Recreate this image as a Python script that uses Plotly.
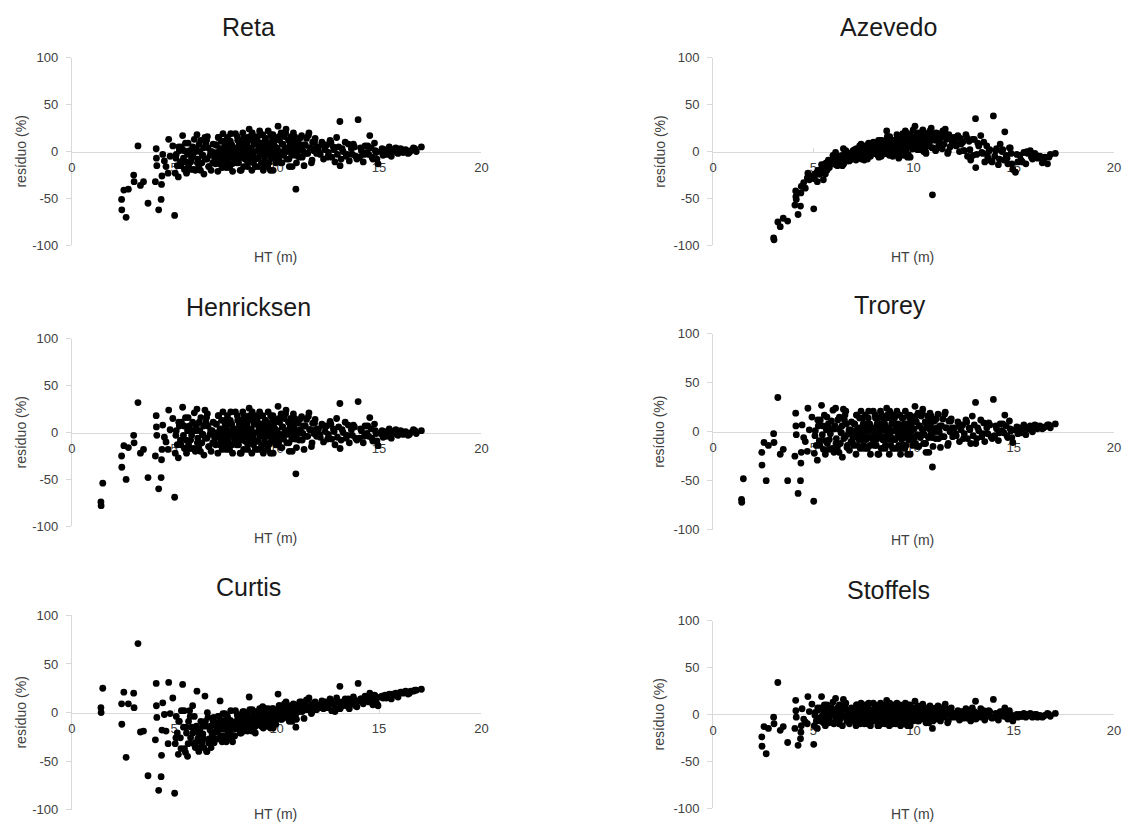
import plotly.graph_objects as go

# Tree height (m), shared by all six models
ht = [
    1.42, 1.43, 1.51, 2.43, 2.44, 2.54, 2.65, 2.76, 3.02, 3.04,
    3.23, 3.35, 3.5, 3.72, 4.12, 4.13, 4.15, 4.08, 4.24, 4.36,
    4.38, 4.4, 4.44, 4.6, 4.73, 4.7, 4.93, 5.02, 4.8, 4.52,
    5.05, 5.1, 5.15, 5.2, 5.25, 5.3, 5.35, 5.41, 5.45, 5.5, 5.55, 5.6, 5.65, 5.7, 5.75, 5.8, 5.85, 5.9, 5.95, 5.98,
    6.03, 6.08, 6.11, 6.15, 6.2, 6.25, 6.3, 6.35, 6.4, 6.45, 6.5, 6.55, 6.6, 6.65, 6.7, 6.75, 6.8, 6.85, 6.9, 6.95, 6.98, 6.62,
    7.02, 7.06, 7.1, 7.13, 7.17, 7.2, 7.24, 7.27, 7.31, 7.34, 7.38, 7.42, 7.45, 7.49, 7.52, 7.56, 7.6, 7.63, 7.67, 7.7, 7.74, 7.78, 7.81, 7.85, 7.88, 7.92, 7.95, 7.99,
    8.02, 8.05, 8.08, 8.12, 8.15, 8.18, 8.22, 8.25, 8.29, 8.32, 8.35, 8.39, 8.42, 8.46, 8.49, 8.52, 8.56, 8.59, 8.62, 8.66, 8.69, 8.72, 8.76, 8.79, 8.82, 8.86, 8.89, 8.93, 8.96, 8.99,
    9.02, 9.05, 9.08, 9.11, 9.14, 9.17, 9.2, 9.23, 9.26, 9.29, 9.32, 9.35, 9.38, 9.41, 9.44, 9.47, 9.5, 9.53, 9.56, 9.59, 9.62, 9.65, 9.68, 9.71, 9.74, 9.77, 9.8, 9.83, 9.86, 9.89, 9.92, 9.96,
    10.03, 10.07, 10.1, 10.14, 10.18, 10.22, 10.26, 10.3, 10.34, 10.38, 10.42, 10.46, 10.5, 10.54, 10.58, 10.62, 10.66, 10.7, 10.74, 10.78, 10.82, 10.86, 10.9, 10.94, 10.97,
    11.04, 11.1, 11.16, 11.22, 11.28, 11.34, 11.4, 11.46, 11.52, 11.58, 11.64, 11.7, 11.76, 11.82, 11.88, 11.95,
    12.05, 12.13, 12.21, 12.29, 12.37, 12.45, 12.53, 12.61, 12.69, 12.77, 12.85, 12.93,
    13.03, 13.09, 13.1, 13.15, 13.25, 13.35, 13.45, 13.55, 13.65, 13.75, 13.86, 13.98,
    14.05, 14.14, 14.23, 14.32, 14.41, 14.5, 14.55, 14.62, 14.7, 14.78, 14.86, 14.95,
    15.08, 15.2, 15.3, 15.42, 15.5, 15.6, 15.7, 15.82, 15.93,
    16.05, 16.18, 16.3, 16.42, 16.55, 16.68, 16.82, 17.07,
    5.08, 5.22, 5.33, 5.48, 5.58, 5.68, 5.78, 5.92,
    6.05, 6.13, 6.22, 6.28, 6.38, 6.43, 6.52, 6.58, 6.68, 6.78, 6.88, 6.93,
    7.04, 7.11, 7.15, 7.22, 7.29, 7.36, 7.4, 7.47, 7.54, 7.58, 7.65, 7.72, 7.76, 7.83, 7.9, 7.97,
    8.04, 8.1, 8.14, 8.2, 8.27, 8.31, 8.37, 8.41, 8.47, 8.54, 8.58, 8.64, 8.71, 8.74, 8.81, 8.87, 8.91, 8.97,
    9.04, 9.09, 9.16, 9.22, 9.28, 9.34, 9.4, 9.46, 9.52, 9.58, 9.64, 9.7, 9.76, 9.82, 9.85, 9.9, 9.94, 9.98,
    10.05, 10.12, 10.2, 10.28, 10.36, 10.44, 10.52, 10.6, 10.68, 10.76, 10.84, 10.88, 10.92, 10.99,
    11.07, 11.13, 11.25, 11.31, 11.43, 11.55, 11.61, 11.73, 11.85, 11.92,
    12.1, 12.33, 12.49, 12.65, 12.81, 12.97,
    13.2, 13.4, 13.5, 13.7, 13.8, 13.92,
    14.1, 14.28, 14.45, 14.66, 14.82, 14.9,
    15.15, 15.36, 15.65, 15.88,
    16.12, 16.48, 16.75,
]

res_reta = [
    -125, -130, -105, -51, -62, -41, -70, -40, -25, -32,
    6, -36, -32, -55, 3, -7, -15, -32, -62, -51,
    -35, -26, -3, -16, 13, -23, 6, -68, -5, -10,
    -23, -3, -15, -27, 1, -11, 5, 17, -7, -19, 9, -23, -3, -15, 1, -11, -7, 5, -19, 13,
    -20, 4, 18, -8, -16, 0, 12, -12, -4, -24, 15, 8, -8, 4, -16, -4, -20, 0, 8, -12, -8, 16,
    -13, 7, -1, -21, 15, -5, 3, -9, 11, -17, 19, -1, -5, 7, -13, 3, 15, -9, -1, -17, 11, -5, 7, -21, 3, -1, -9, 19,
    4, -12, 16, 0, -8, 8, -20, 12, -4, 0, 20, -16, 4, -8, 12, -4, 8, -12, 0, 24, 16, -8, 4, -20, 12, -4, 0, 8, -16, 16,
    -7, 14, 1, -16, 5, 22, -3, 9, -12, 1, 18, -20, 5, -7, 14, -3, 1, 9, -16, 22, -12, 5, -3, 18, -7, 1, 14, -20, 9, -3, 5, -12,
    4, 27, -8, 12, 0, 20, -12, 8, -4, 16, 4, 24, -8, 0, 12, -16, 8, 16, -4, 4, 20, 0, 12, -40, -12,
    10, -6, 4, 17, 1, -15, 7, 14, -2, 20, 4, -12, 10, 1, 14, -2,
    5, -3, 10, -8, 2, 7, -1, 12, -6, 5, -11, 15,
    5, 32, -15, -8, 0, 10, -3, -10, 3, 8, -5, 34,
    -6, 1, -11, 6, -1, -3, 17, 4, -8, 9, -1, -13,
    0, -4, 2, -1, 5, -5, 1, 4, -2,
    3, -1, 2, -2, 1, 4, 0, 5,
    -7, 5, -15, 1, -11, 9, -19, -3,
    0, -12, 8, -20, -4, 4, -8, 12, -16, 0, -12, -4,
    7, -5, 15, -13, -1, 3, -9, 11, -17, -1, 7, -5, 19, -13, 3, -9,
    -4, 12, -12, 4, -20, 8, 0, 16, -8, 4, -16, 12, -4, 0, 20, -12, 8, -8,
    9, -7, 1, 18, -16, 5, -3, 14, -12, 1, 9, -20, 5, 18, -7, 1, -3, 14,
    -4, 16, -12, 8, 0, 20, 4, -8, 12, -16, 8, 16, -4, 4,
    1, 14, -6, 7, -2, 17, 4, -9, 10, 4,
    -1, 7, -6, 10, 2, -3,
    3, -5, 8, -3, 5, -8,
    4, -3, 6, -6, 1, -8,
    3, -3, 2, -1,
    2, -1, 3,
]

res_azevedo = [
    -140, -145, -130, -115, -125, -110, -128, -105, -92, -94,
    -75, -80, -71, -74, -42, -48, -51, -57, -67, -58,
    -44, -37, -37, -39, -23, -28, -26, -61, -30, -33,
    -29, -25, -23, -32, -20, -24, -22, -14, -19, -30, -16, -24, -12, -17, -9, -17, -11, -9, -11, -4,
    -13, -8, -1, -11, -15, -8, -5, -12, -9, -15, 3, -4, -9, 0, -10, -4, -10, -2, -5, -6, 1, 1,
    -6, 2, -1, -9, 1, -3, 1, -6, 6, -6, 8, 0, -3, 5, -5, -1, 6, -6, 2, -8, 8, 1, 5, -5, 3, 0, -2, 10,
    7, -2, 9, 5, 0, 3, -4, 12, -1, 6, 12, -5, 4, 2, 8, 4, 11, -2, 2, 22, 16, 0, 9, -4, 8, 5, 3, 12, -5, 10,
    3, 12, 9, -2, 6, 18, 1, 15, -7, 10, 15, -4, 13, 4, 13, 7, 2, 16, -1, 22, 2, 11, 8, 19, -3, 11, 14, -6, 17, 6, 9, 3,
    12, 27, 4, 17, 10, 20, 2, 15, 7, 15, 13, 23, 0, 11, 19, -2, 14, 16, 6, 9, 22, 12, 19, -46, 4,
    15, 1, 17, 19, 11, 4, 16, 22, 8, 24, 13, -2, 18, 5, 15, 10,
    15, 6, 17, 0, 8, 10, 1, 18, -5, 11, -9, 13,
    13, 35, -17, -3, 6, 17, -2, -11, 6, 0, -10, 38,
    -5, 3, -14, 8, 0, -9, 21, -4, -13, 4, -2, -19,
    -22, -11, -4, -11, -1, -13, -2, 1, -8,
    -2, -7, -5, -12, -6, -13, -3, -2,
    -24, -20, -24, -20, -13, -20, -14, -10,
    -12, -14, -7, -11, -7, -4, -13, -4, -7, -7, -2, -8,
    -2, -7, 3, -5, -2, 2, -8, 1, -9, 4, 0, -2, 9, -3, 7, 2,
    2, 7, -2, 5, -6, 10, 6, 12, 2, 4, -2, 9, 0, 7, 16, -3, 12, 4,
    9, 3, 12, 15, -2, 7, 2, 19, -4, 11, 14, -6, 8, 17, 6, 12, 3, 23,
    7, 15, 2, 12, 10, 21, 5, 0, 19, 9, 17, 25, 4, 15,
    12, 20, 6, 14, 3, 21, 16, 0, 13, 8,
    9, 14, 1, 15, 2, -4,
    9, -1, 10, -6, 2, -11,
    1, -8, 2, -7, 4, -13,
    -3, -9, 0, -6,
    -4, -9, -6,
]

res_henricksen = [
    -74, -78, -54, -25, -37, -14, -50, -16, -3, -11,
    32, -22, -18, -48, 18, 6, -3, -25, -60, -48,
    -29, -18, 8, -10, 24, -18, 15, -69, 3, -5,
    -22, 2, -13, -27, 7, -8, 11, 27, -3, -17, 16, -22, 2, -13, 7, -8, -3, 11, -17, 21,
    -20, 7, 25, -6, -15, 2, 16, -11, -2, -24, 24, 11, -6, 7, -15, -2, -20, 2, 11, -11, -6, 20,
    -13, 9, 0, -22, 18, -4, 4, -9, 13, -18, 22, 0, -4, 9, -13, 4, 18, -9, 0, -18, 13, -4, 9, -22, 4, 0, -9, 22,
    4, -13, 18, 0, -9, 9, -22, 13, -4, 0, 22, -18, 4, -9, 13, -4, 9, -13, 0, 26, 18, -9, 4, -22, 13, -4, 0, 9, -18, 18,
    -9, 13, 0, -18, 4, 22, -4, 9, -13, 0, 18, -22, 4, -9, 13, -4, 0, 9, -18, 22, -13, 4, -4, 18, -9, 0, 13, -22, 9, -4, 4, -13,
    2, 28, -11, 11, -2, 20, -16, 6, -7, 15, 2, 24, -11, -2, 11, -20, 6, 15, -7, 2, 20, -2, 11, -44, -16,
    10, -8, 3, 17, -1, -18, 7, 14, -4, 21, 3, -15, 10, -1, 14, -4,
    4, -5, 9, -10, 1, 7, -2, 12, -7, 4, -13, 15,
    6, 31, -17, -8, 0, 11, -3, -11, 3, 8, -6, 33,
    -6, 2, -11, 7, -1, -4, 16, 4, -9, 9, -1, -14,
    -1, -5, 1, -2, 4, -6, 0, 3, -3,
    2, -2, 1, -3, 0, 3, -1, 2,
    -3, 11, -13, 7, -8, 16, -17, 2,
    2, -11, 11, -20, -2, 7, -6, 16, -15, 2, -11, -2,
    9, -4, 18, -13, 0, 4, -9, 13, -18, 0, 9, -4, 22, -13, 4, -9,
    -4, 13, -13, 4, -22, 9, 0, 18, -9, 4, -18, 13, -4, 0, 22, -13, 9, -9,
    9, -9, 0, 18, -18, 4, -4, 13, -13, 0, 9, -22, 4, 18, -9, 0, -4, 13,
    -7, 15, -16, 6, -2, 20, 2, -11, 11, -20, 6, 15, -7, 2,
    -1, 14, -8, 7, -4, 17, 3, -11, 10, 3,
    -2, 7, -7, 9, 1, -5,
    3, -6, 8, -3, 6, -8,
    4, -4, 7, -6, 2, -9,
    2, -4, 1, -2,
    1, -2, 2,
]

res_trorey = [
    -69, -72, -48, -21, -34, -11, -50, -14, -2, -11,
    35, -23, -18, -50, 19, 6, -3, -25, -63, -50,
    -32, -21, 7, -10, 24, -20, 15, -71, 2, -6,
    -22, 1, -14, -29, 6, -9, 12, 27, -3, -18, 17, -23, 2, -12, 8, -8, -2, 11, -17, 22,
    -21, 6, 24, -7, -16, 3, 15, -12, -1, -26, 23, 12, -5, 8, -14, -2, -19, 2, 10, -11, -6, 21,
    -14, 8, 1, -23, 17, -5, 4, -8, 14, -17, 21, 1, -5, 8, -14, 4, 17, -8, 1, -17, 14, -5, 8, -23, 4, 1, -8, 21,
    4, -14, 17, 1, -8, 8, -23, 14, -5, 1, 21, -17, 4, -8, 14, -5, 8, -14, 1, 24, 17, -8, 4, -23, 14, -5, 1, 8, -17, 17,
    -8, 14, 1, -17, 4, 21, -5, 8, -14, 1, 17, -23, 4, -8, 14, -5, 1, 8, -17, 21, -14, 4, -5, 17, -8, 1, 14, -23, 8, -5, 4, -14,
    3, 26, -12, 10, -3, 19, -15, 6, -6, 16, 3, 23, -12, -3, 10, -21, 6, 16, -6, 3, 19, -3, 10, -36, -15,
    11, -7, 4, 18, 0, -16, 6, 13, -5, 20, 4, -14, 11, 0, 13, -5,
    4, -4, 10, -10, 2, 7, -2, 12, -7, 4, -12, 16,
    7, 30, -12, -7, 1, 12, -2, -10, 4, 9, -5, 33,
    -4, 3, -9, 8, 1, -1, 17, 6, -6, 11, 1, -11,
    2, -2, 4, 1, 7, -3, 3, 6, 0,
    7, 3, 6, 3, 5, 7, 4, 8,
    -4, 12, -14, 6, -9, 15, -18, 3,
    3, -12, 12, -21, -1, 6, -7, 17, -16, 2, -10, -3,
    8, -5, 17, -14, 1, 4, -8, 14, -17, 1, 8, -5, 21, -14, 4, -8,
    -5, 14, -14, 4, -23, 8, 1, 17, -8, 4, -17, 14, -5, 1, 21, -14, 8, -8,
    8, -8, 1, 17, -17, 4, -5, 14, -14, 1, 8, -23, 4, 17, -8, 1, -5, 14,
    -6, 16, -15, 6, -3, 19, 3, -12, 10, -21, 6, 16, -6, 3,
    0, 13, -7, 6, -5, 18, 4, -12, 11, 4,
    -2, 7, -7, 10, 2, -4,
    4, -5, 9, -2, 7, -7,
    6, -1, 8, -4, 3, -6,
    5, -1, 4, 2,
    6, 4, 7,
]

res_curtis = [
    5, 0, 25, 9, -12, 21, -46, 9, 20, 5,
    71, -20, -19, -65, 30, 7, -5, -28, -80, -66,
    -44, -18, 10, -19, 31, -32, 15, -83, -1, -2,
    -32, -4, -21, -43, -9, -26, 2, 29, -15, -37, -41, -21, -45, -9, 2, -26, -15, 7, -32, -4,
    -36, -14, 22, -27, -40, -18, -9, -31, -22, -36, 17, -14, -40, -5, -27, -18, -36, -22, -9, -31, -27, 0,
    -20, -11, -14, -27, -4, -17, 12, -24, -8, -30, -1, -17, -14, -8, -24, -11, -4, -20, -17, -27, -8, -14, -11, -30, -17, -14, -24, 2,
    -9, -14, -2, -11, -16, -7, -21, -4, -9, -11, 1, -19, -4, -14, -7, -9, -2, -16, -11, 16, 3, -14, -7, -19, -4, -11, -9, -2, -21, 1,
    -7, -1, -5, -12, -3, 4, -10, 2, -14, -5, 6, -16, -3, -10, -1, -7, -5, 2, -14, 4, -12, -1, -7, 2, -10, -3, 4, -16, -1, -5, -3, -12,
    1, 19, -3, 7, -1, 5, -7, 3, -5, 9, 1, 11, -5, -1, 5, -9, 3, 7, -3, 3, 9, -1, 5, -15, -7,
    8, 1, 6, 11, 4, -6, 10, 13, 3, 15, 6, -1, 8, 4, 11, 3,
    8, 5, 12, 4, 9, 11, 7, 14, 2, 9, 1, 15,
    11, 27, 4, 6, 10, 14, 9, 4, 13, 16, 7, 30,
    12, 14, 9, 17, 13, 11, 20, 15, 8, 18, 14, 7,
    16, 15, 18, 17, 19, 14, 18, 20, 16,
    21, 20, 22, 19, 22, 22, 23, 24,
    -26, -9, -37, 2, -15, -32, -4, -21,
    -31, -18, -22, -36, -14, -27, -9, -40, -31, -14, -22, -5,
    -14, -20, -4, -27, -17, -11, -24, -1, -30, -14, -8, -20, 2, -24, -11, -17,
    -11, -4, -16, -9, -21, -2, -7, 1, -14, -9, -19, -4, -11, -7, 3, -16, -2, -14,
    -3, -10, -5, 2, -14, -1, -7, 4, -12, -5, -1, -16, -3, 4, -10, -5, -7, 2,
    -3, 7, -7, 3, -1, 9, 1, -5, 5, -9, 5, 7, -3, 1,
    4, 11, 1, 8, 3, 13, 6, 1, 10, 6,
    7, 11, 5, 12, 8, 4,
    11, 7, 14, 9, 13, 6,
    14, 12, 15, 11, 17, 9,
    17, 15, 19, 17,
    21, 20, 23,
]

res_stoffels = [
    -112, -118, -104, -24, -34, -13, -42, -15, -3, -10,
    34, -17, -13, -30, 15, 4, -3, -15, -33, -26,
    -19, -12, 6, -8, 19, -10, 11, -32, 3, -5,
    -12, 2, -7, -15, 5, -4, 7, 19, -1, -9, 10, -12, 2, -7, 5, -4, -1, 7, -9, 13,
    -10, 5, 17, -2, -7, 2, 10, -5, 0, -12, 16, 7, -2, 5, -7, 0, -10, 2, 7, -5, -2, 12,
    -7, 5, 0, -12, 10, -2, 2, -5, 7, -10, 12, 0, -2, 5, -7, 2, 10, -5, 0, -10, 7, -2, 5, -12, 2, 0, -5, 12,
    2, -7, 10, 0, -5, 5, -12, 7, -2, 0, 12, -10, 2, -5, 7, -2, 5, -7, 0, 15, 10, -5, 2, -12, 7, -2, 0, 5, -10, 10,
    -5, 7, 0, -10, 2, 12, -2, 5, -7, 0, 10, -12, 2, -5, 7, -2, 0, 5, -10, 12, -7, 2, -2, 10, -5, 0, 7, -12, 5, -2, 2, -7,
    1, 14, -5, 5, -1, 9, -7, 3, -3, 7, 1, 11, -5, -1, 5, -9, 3, 7, -3, 1, 9, -1, 5, -15, -7,
    5, -5, 1, 9, -1, -7, 3, 7, -3, 11, 1, -9, 5, -1, 7, -3,
    1, -3, 4, -6, 0, 3, -1, 6, -4, 1, -7, 7,
    3, 14, -5, -4, 0, 6, -1, -6, 1, 4, -3, 16,
    -3, 0, -6, 3, -1, -2, 7, 1, -5, 4, -1, -7,
    -1, -3, 0, -2, 1, -3, -1, 1, -3,
    0, -3, -1, -3, -1, 1, -2, 1,
    -1, 7, -7, 5, -4, 10, -9, 2,
    2, -5, 7, -10, 0, 5, -2, 10, -7, 2, -5, 0,
    5, -2, 10, -7, 0, 2, -5, 7, -10, 0, 5, -2, 12, -7, 2, -5,
    -2, 7, -7, 2, -12, 5, 0, 10, -5, 2, -10, 7, -2, 0, 12, -7, 5, -5,
    5, -5, 0, 10, -10, 2, -2, 7, -7, 0, 5, -12, 2, 10, -5, 0, -2, 7,
    -3, 7, -7, 3, -1, 9, 1, -5, 5, -9, 3, 7, -3, 1,
    -1, 7, -5, 3, -3, 9, 1, -7, 5, 1,
    -1, 3, -4, 4, 0, -3,
    1, -3, 4, -1, 3, -4,
    1, -2, 3, -3, 0, -5,
    0, -2, 0, -2,
    0, -2, 0,
]

model_names = ["Reta", "Azevedo", "Henricksen", "Trorey", "Curtis", "Stoffels"]
residuals = [res_reta, res_azevedo, res_henricksen, res_trorey, res_curtis, res_stoffels]
x_tick_vals = [0, 5, 10, 15, 20]
x_tick_text = ["0", "5", "10", "15", "20"]
y_tick_vals = [-100, -50, 0, 50, 100]
y_tick_text = ["-100", "-50", "0", "50", "100"]
x_title = "HT (m)"
y_title = "resíduo (%)"

for name, r in zip(model_names, residuals):
    if len(r) != len(ht):
        raise ValueError(f"{name}: {len(r)} values vs {len(ht)} heights")

# layout geometry (paper fractions)
x_dom = {"L": [0.06073, 0.42739], "R": [0.63480, 0.99380]}
y_title_x = {"L": 0.0152, "R": 0.5865}
panels = [
    # column, y-domain, title (x, y), HT label y
    ("L", [0.70629, 0.93761], (0.2187, 0.97497), 0.69154),
    ("R", [0.70629, 0.93761], (0.7917, 0.97497), 0.69154),
    ("L", [0.36046, 0.59141], (0.2187, 0.62999), 0.34655),
    ("R", [0.35635, 0.59746], (0.7928, 0.63241), 0.34401),
    ("L", [0.01137, 0.25078], (0.2187, 0.28609), 0.0060),
    ("R", [0.01342, 0.24426], (0.7919, 0.28247), 0.0060),
]

FONT = "Liberation Sans, Arial, sans-serif"
AXIS_COL = "#d9d9d9"
TICK_COL = "#404040"

fig = go.Figure()
layout = dict(
    autosize=True,
    margin=dict(l=0, r=0, t=0, b=0, pad=0),
    paper_bgcolor="white", plot_bgcolor="white",
    showlegend=False,
    font=dict(family=FONT, color=TICK_COL, size=13),
)
annotations = []

for i, (name, res, (col, ydom, tpos, ht_y)) in enumerate(zip(model_names, residuals, panels), start=1):
    xa = "x" if i == 1 else f"x{i}"
    ya = "y" if i == 1 else f"y{i}"
    fig.add_trace(go.Scatter(
        x=ht, y=res, mode="markers", xaxis=xa, yaxis=ya,
        marker=dict(color="black", size=6.8, line=dict(width=0)),
        hoverinfo="x+y",
    ))
    ymid = (ydom[0] + ydom[1]) / 2
    layout["xaxis" if i == 1 else f"xaxis{i}"] = dict(
        domain=x_dom[col], range=[0, 20], tickvals=x_tick_vals, ticktext=x_tick_text,
        anchor="free", position=ymid,
        showline=True, linecolor=AXIS_COL, linewidth=1,
        ticks="inside", ticklen=4, tickcolor=AXIS_COL, ticklabelstandoff=4,
        showgrid=False, zeroline=False,
        tickfont=dict(size=13, color=TICK_COL, family=FONT),
        layer="below traces", fixedrange=True,
    )
    layout["yaxis" if i == 1 else f"yaxis{i}"] = dict(
        domain=ydom, range=[-100, 100], tickvals=y_tick_vals, ticktext=y_tick_text,
        anchor=xa,
        showline=True, linecolor=AXIS_COL, linewidth=1,
        ticks="outside", ticklen=5, tickcolor=AXIS_COL, ticklabelstandoff=5,
        showgrid=False, zeroline=False,
        tickfont=dict(size=13, color=TICK_COL, family=FONT),
        layer="below traces", fixedrange=True,
    )
    annotations.append(dict(
        text=name, xref="paper", yref="paper", x=tpos[0], y=tpos[1],
        xanchor="center", yanchor="middle", showarrow=False,
        font=dict(size=25, color="#1a1a1a", family=FONT),
    ))
    annotations.append(dict(
        text=x_title, xref="paper", yref="paper",
        x=(x_dom[col][0] + x_dom[col][1]) / 2 - 0.001, y=ht_y,
        xanchor="center", yanchor="middle", showarrow=False,
        font=dict(size=14, color=TICK_COL, family=FONT),
    ))
    annotations.append(dict(
        text=y_title, xref="paper", yref="paper",
        x=y_title_x[col], y=ymid,
        xanchor="center", yanchor="middle", showarrow=False, textangle=-90,
        font=dict(size=14, color=TICK_COL, family=FONT),
    ))

layout["annotations"] = annotations
fig.update_layout(**layout)
fig.write_html(
    "out.html",
    default_width="100vw",
    default_height="100vh",
    config={"displayModeBar": False},
    post_script=(
        "document.documentElement.style.margin='0';"
        "document.body.style.margin='0';"
        "document.documentElement.style.overflow='hidden';"
        "document.body.style.overflow='hidden';"
        "var gd=document.getElementById('{plot_id}');"
        "gd.style.position='fixed';gd.style.left='0px';gd.style.top='0px';"
    ),
)
